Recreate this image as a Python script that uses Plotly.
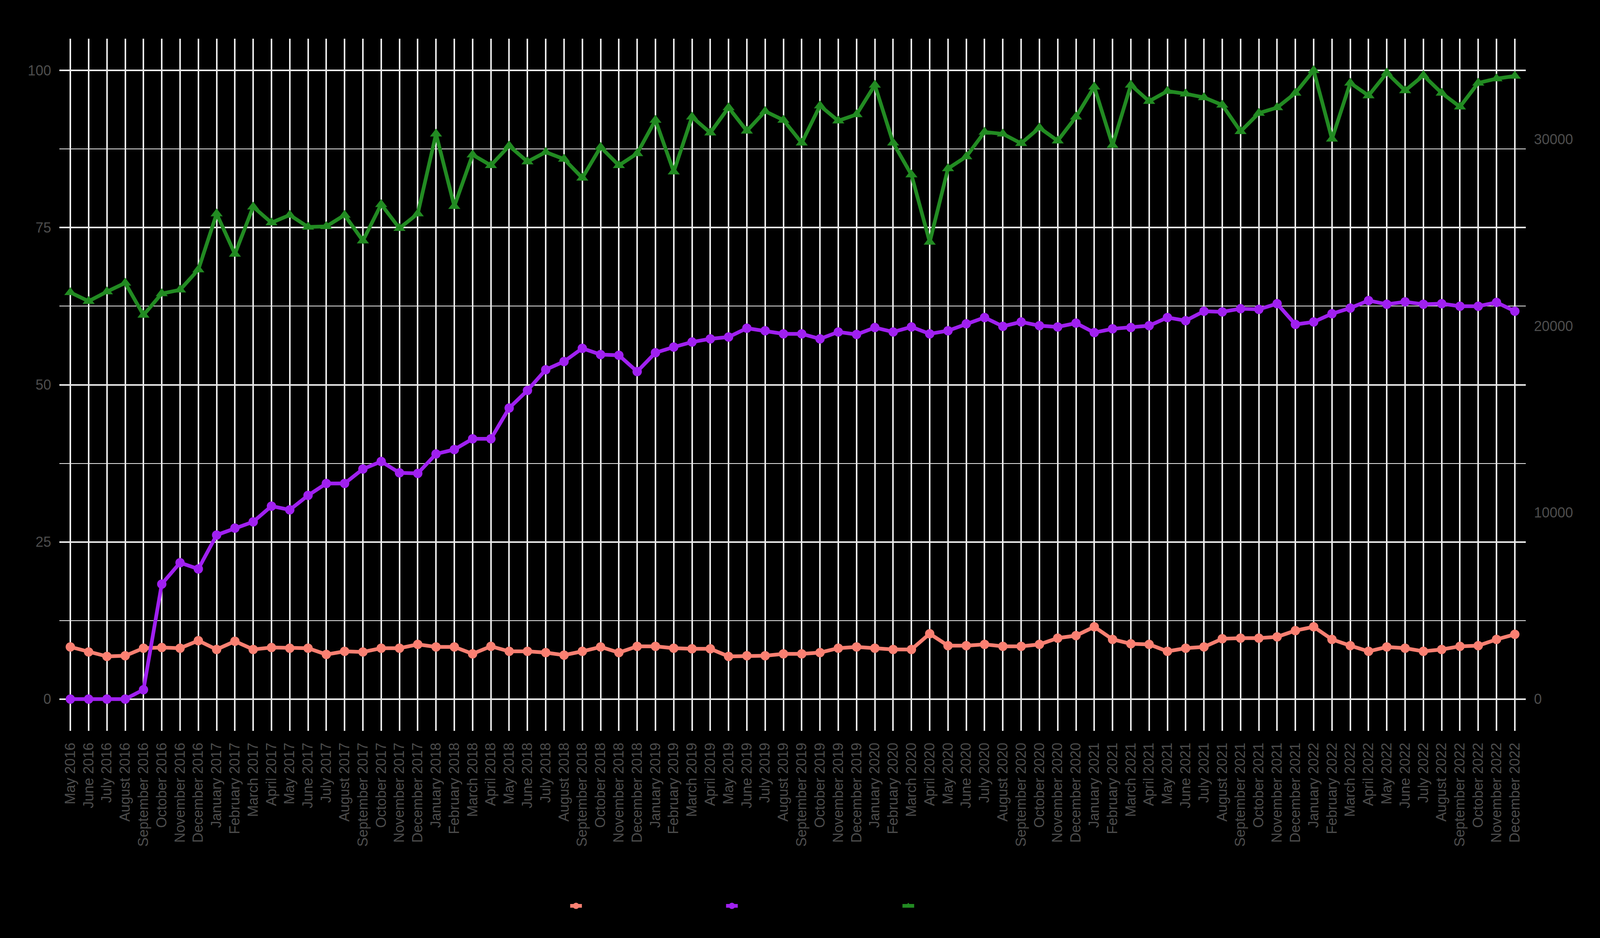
import plotly.graph_objects as go

months = [
    "May 2016", "June 2016", "July 2016", "August 2016", "September 2016", "October 2016",
    "November 2016", "December 2016", "January 2017", "February 2017", "March 2017", "April 2017",
    "May 2017", "June 2017", "July 2017", "August 2017", "September 2017", "October 2017",
    "November 2017", "December 2017", "January 2018", "February 2018", "March 2018", "April 2018",
    "May 2018", "June 2018", "July 2018", "August 2018", "September 2018", "October 2018",
    "November 2018", "December 2018", "January 2019", "February 2019", "March 2019", "April 2019",
    "May 2019", "June 2019", "July 2019", "August 2019", "September 2019", "October 2019",
    "November 2019", "December 2019", "January 2020", "February 2020", "March 2020", "April 2020",
    "May 2020", "June 2020", "July 2020", "August 2020", "September 2020", "October 2020",
    "November 2020", "December 2020", "January 2021", "February 2021", "March 2021", "April 2021",
    "May 2021", "June 2021", "July 2021", "August 2021", "September 2021", "October 2021",
    "November 2021", "December 2021", "January 2022", "February 2022", "March 2022", "April 2022",
    "May 2022", "June 2022", "July 2022", "August 2022", "September 2022", "October 2022",
    "November 2022", "December 2022",
]

# left axis (%)
monthly_share = [
    8.3, 7.5, 6.8, 6.9, 8.1, 8.2, 8.1, 9.3, 7.9, 9.2, 7.9, 8.2, 8.1, 8.1, 7.1, 7.6,
    7.5, 8.1, 8.1, 8.7, 8.3, 8.3, 7.2, 8.4, 7.6, 7.6, 7.4, 7.0, 7.6, 8.3, 7.4, 8.4,
    8.4, 8.1, 8.0, 8.0, 6.8, 6.9, 6.9, 7.2, 7.2, 7.4, 8.1, 8.3, 8.1, 7.9, 7.9, 10.4,
    8.5, 8.5, 8.7, 8.4, 8.4, 8.7, 9.7, 10.1, 11.5, 9.5, 8.8, 8.7, 7.6, 8.1, 8.3, 9.6,
    9.7, 9.7, 9.9, 10.9, 11.5, 9.5, 8.5, 7.6, 8.3, 8.1, 7.6, 7.9, 8.4, 8.5, 9.5, 10.3,
]

cumulative_share = [
    0.0, 0.0, 0.0, 0.0, 1.5, 18.3, 21.7, 20.7, 26.1, 27.2, 28.2, 30.7, 30.1, 32.4, 34.3, 34.3,
    36.6, 37.8, 36.0, 35.9, 39.0, 39.7, 41.4, 41.4, 46.3, 49.1, 52.4, 53.7, 55.8, 54.8, 54.7, 52.1,
    55.1, 56.0, 56.8, 57.3, 57.6, 59.0, 58.6, 58.1, 58.1, 57.3, 58.4, 58.0, 59.1, 58.4, 59.2, 58.1,
    58.6, 59.7, 60.7, 59.3, 60.0, 59.4, 59.2, 59.8, 58.3, 58.9, 59.1, 59.4, 60.7, 60.2, 61.7, 61.6,
    62.1, 62.0, 62.9, 59.6, 60.0, 61.3, 62.2, 63.4, 62.8, 63.2, 62.8, 62.9, 62.5, 62.5, 63.1, 61.7,
]

# right axis (count)
user_count = [
    21800, 21330, 21840, 22310, 20590, 21740, 21940, 23020, 26020, 23860, 26390, 25540, 25950, 25310, 25340, 25950,
    24570, 26520, 25240, 26020, 30300, 26420, 29180, 28610, 29660, 28810, 29320, 28950, 27940, 29590, 28610, 29250,
    31040, 28270, 31210, 30360, 31710, 30460, 31510, 31040, 29820, 31810, 31000, 31340, 32920, 29820, 28110, 24500,
    28440, 29080, 30400, 30300, 29790, 30630, 29930, 31210, 32820, 29690, 32920, 32050, 32590, 32450, 32250, 31850,
    30430, 31410, 31710, 32490, 33700, 30030, 33030, 32350, 33570, 32620, 33430, 32490, 31750, 33030, 33260, 33400,
]

left_ticks = [0, 25, 50, 75, 100]
right_ticks = [0, 10000, 20000, 30000]
ratio = 337  # right axis units per left axis unit

grid = "#EBEBEB"
txt = "#4D4D4D"
font_family = "Liberation Sans, Arial, sans-serif"

fig = go.Figure()

fig.add_trace(go.Scatter(
    x=months, y=monthly_share, name="Monthly share of users",
    mode="lines+markers",
    line=dict(color="#FA8072", width=9.5),
    marker=dict(color="#FA8072", size=24, symbol="circle"),
))
fig.add_trace(go.Scatter(
    x=months, y=cumulative_share, name="Cumulative share of users",
    mode="lines+markers",
    line=dict(color="#A020F0", width=9.5),
    marker=dict(color="#A020F0", size=24, symbol="circle"),
))
fig.add_trace(go.Scatter(
    x=months, y=user_count, name="Number of users", yaxis="y2",
    mode="lines+markers",
    line=dict(color="#228B22", width=9.5),
    marker=dict(color="#228B22", size=27, symbol="triangle-up"),
))

ylo, yhi = -5.05, 105.05

fig.update_layout(
    width=4096, height=2400,
    paper_bgcolor="black", plot_bgcolor="black",
    margin=dict(l=152, r=190, t=99, b=530, autoexpand=False),
    font=dict(family=font_family, size=36, color=txt),
    xaxis=dict(
        type="category", range=[-0.6, 79.6],
        showgrid=True, gridcolor=grid, gridwidth=4.3,
        zeroline=False, showline=False, ticks="",
        tickangle=-90, tickfont=dict(size=36, color=txt),
        ticklabelstandoff=22,
    ),
    yaxis=dict(
        range=[ylo, yhi], tickvals=left_ticks,
        showgrid=True, gridcolor=grid, gridwidth=4.3,
        minor=dict(tickvals=[12.5, 37.5, 62.5, 87.5], showgrid=True,
                   gridcolor=grid, gridwidth=2.3, ticks=""),
        zeroline=False, showline=False, ticks="",
        tickfont=dict(size=36, color=txt),
        ticklabelstandoff=20,
    ),
    yaxis2=dict(
        range=[ylo * ratio, yhi * ratio], tickvals=right_ticks,
        ticktext=[str(v) for v in right_ticks],
        overlaying="y", side="right", showgrid=False,
        zeroline=False, showline=False, ticks="",
        tickfont=dict(size=36, color=txt),
        ticklabelstandoff=20,
    ),
    showlegend=True,
    legend=dict(
        orientation="h", x=0.347, xanchor="left", y=-0.253, yanchor="middle",
        font=dict(size=35, color="black"), bgcolor="rgba(0,0,0,0)",
    ),
)

fig.write_html(
    "out.html",
    config={"displayModeBar": False},
    post_script="document.body.style.margin='0';document.body.style.background='black';",
)
